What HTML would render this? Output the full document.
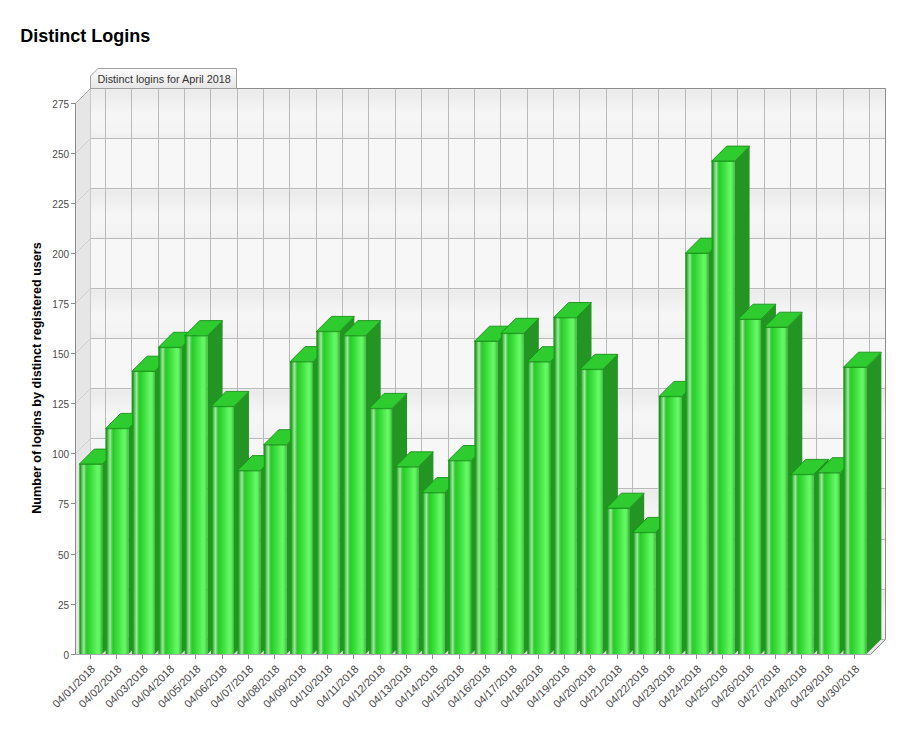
<!DOCTYPE html><html><head><meta charset="utf-8"><style>
html,body{margin:0;padding:0;background:#fff;}
body{width:914px;height:733px;overflow:hidden;font-family:"Liberation Sans",sans-serif;}
svg{position:absolute;left:0;top:0;}
</style></head><body>
<svg width="914" height="733" viewBox="0 0 914 733">
<defs>
<linearGradient id="fg" x1="0" y1="0" x2="1" y2="0"><stop offset="0" stop-color="#179717"/><stop offset="0.06" stop-color="#22a622"/><stop offset="0.12" stop-color="#60cc60"/><stop offset="0.20" stop-color="#a4e6a4"/><stop offset="0.27" stop-color="#50d050"/><stop offset="0.33" stop-color="#26cc26"/><stop offset="0.55" stop-color="#3fe03f"/><stop offset="0.80" stop-color="#66f866"/><stop offset="0.88" stop-color="#60f060"/><stop offset="0.95" stop-color="#44d844"/><stop offset="1" stop-color="#30b030"/></linearGradient>
<linearGradient id="band" x1="0" y1="0" x2="0" y2="1"><stop offset="0" stop-color="#f1f1f1"/><stop offset="0.05" stop-color="#ebebeb"/><stop offset="0.15" stop-color="#ededed"/><stop offset="0.5" stop-color="#f6f6f6"/><stop offset="0.85" stop-color="#f4f4f4"/><stop offset="1" stop-color="#efefef"/></linearGradient>
<linearGradient id="tab" x1="0" y1="0" x2="0" y2="1"><stop offset="0" stop-color="#fbfbfb"/><stop offset="1" stop-color="#e6e6e6"/></linearGradient>
</defs>
<text x="20.2" y="41.8" font-family="Liberation Sans" font-weight="bold" font-size="18" fill="#000">Distinct Logins</text>
<rect x="90.5" y="88.5" width="795.0" height="551.0" fill="#f7f7f7"/>
<rect x="90.5" y="88.50" width="795.0" height="50.00" fill="url(#band)"/>
<rect x="90.5" y="188.50" width="795.0" height="50.00" fill="url(#band)"/>
<rect x="90.5" y="288.50" width="795.0" height="50.00" fill="url(#band)"/>
<rect x="90.5" y="388.50" width="795.0" height="50.00" fill="url(#band)"/>
<rect x="90.5" y="488.50" width="795.0" height="51.00" fill="url(#band)"/>
<rect x="90.5" y="589.50" width="795.0" height="50.00" fill="url(#band)"/>
<polygon points="75.5,103.5 90.5,88.5 90.5,639.5 75.5,654.5" fill="#e6e6e6"/>
<polygon points="75.5,654.5 870.5,654.5 885.5,639.5 90.5,639.5" fill="#e6e6e6"/>
<line x1="90.5" y1="639.50" x2="885.5" y2="639.50" stroke="#bababa" stroke-width="1"/>
<line x1="75.5" y1="654.50" x2="90.5" y2="639.50" stroke="#d0d0d0" stroke-width="1"/>
<line x1="90.5" y1="589.50" x2="885.5" y2="589.50" stroke="#bababa" stroke-width="1"/>
<line x1="75.5" y1="604.50" x2="90.5" y2="589.50" stroke="#d0d0d0" stroke-width="1"/>
<line x1="90.5" y1="539.50" x2="885.5" y2="539.50" stroke="#bababa" stroke-width="1"/>
<line x1="75.5" y1="554.50" x2="90.5" y2="539.50" stroke="#d0d0d0" stroke-width="1"/>
<line x1="90.5" y1="488.50" x2="885.5" y2="488.50" stroke="#bababa" stroke-width="1"/>
<line x1="75.5" y1="503.50" x2="90.5" y2="488.50" stroke="#d0d0d0" stroke-width="1"/>
<line x1="90.5" y1="438.50" x2="885.5" y2="438.50" stroke="#bababa" stroke-width="1"/>
<line x1="75.5" y1="453.50" x2="90.5" y2="438.50" stroke="#d0d0d0" stroke-width="1"/>
<line x1="90.5" y1="388.50" x2="885.5" y2="388.50" stroke="#bababa" stroke-width="1"/>
<line x1="75.5" y1="403.50" x2="90.5" y2="388.50" stroke="#d0d0d0" stroke-width="1"/>
<line x1="90.5" y1="338.50" x2="885.5" y2="338.50" stroke="#bababa" stroke-width="1"/>
<line x1="75.5" y1="353.50" x2="90.5" y2="338.50" stroke="#d0d0d0" stroke-width="1"/>
<line x1="90.5" y1="288.50" x2="885.5" y2="288.50" stroke="#bababa" stroke-width="1"/>
<line x1="75.5" y1="303.50" x2="90.5" y2="288.50" stroke="#d0d0d0" stroke-width="1"/>
<line x1="90.5" y1="238.50" x2="885.5" y2="238.50" stroke="#bababa" stroke-width="1"/>
<line x1="75.5" y1="253.50" x2="90.5" y2="238.50" stroke="#d0d0d0" stroke-width="1"/>
<line x1="90.5" y1="188.50" x2="885.5" y2="188.50" stroke="#bababa" stroke-width="1"/>
<line x1="75.5" y1="203.50" x2="90.5" y2="188.50" stroke="#d0d0d0" stroke-width="1"/>
<line x1="90.5" y1="138.50" x2="885.5" y2="138.50" stroke="#bababa" stroke-width="1"/>
<line x1="75.5" y1="153.50" x2="90.5" y2="138.50" stroke="#d0d0d0" stroke-width="1"/>
<line x1="90.5" y1="88.50" x2="885.5" y2="88.50" stroke="#bababa" stroke-width="1"/>
<line x1="75.5" y1="103.50" x2="90.5" y2="88.50" stroke="#d0d0d0" stroke-width="1"/>
<line x1="105.50" y1="88.5" x2="105.50" y2="639.5" stroke="#bababa" stroke-width="1"/>
<line x1="131.50" y1="88.5" x2="131.50" y2="639.5" stroke="#bababa" stroke-width="1"/>
<line x1="158.50" y1="88.5" x2="158.50" y2="639.5" stroke="#bababa" stroke-width="1"/>
<line x1="184.50" y1="88.5" x2="184.50" y2="639.5" stroke="#bababa" stroke-width="1"/>
<line x1="210.50" y1="88.5" x2="210.50" y2="639.5" stroke="#bababa" stroke-width="1"/>
<line x1="237.50" y1="88.5" x2="237.50" y2="639.5" stroke="#bababa" stroke-width="1"/>
<line x1="263.50" y1="88.5" x2="263.50" y2="639.5" stroke="#bababa" stroke-width="1"/>
<line x1="289.50" y1="88.5" x2="289.50" y2="639.5" stroke="#bababa" stroke-width="1"/>
<line x1="316.50" y1="88.5" x2="316.50" y2="639.5" stroke="#bababa" stroke-width="1"/>
<line x1="342.50" y1="88.5" x2="342.50" y2="639.5" stroke="#bababa" stroke-width="1"/>
<line x1="368.50" y1="88.5" x2="368.50" y2="639.5" stroke="#bababa" stroke-width="1"/>
<line x1="395.50" y1="88.5" x2="395.50" y2="639.5" stroke="#bababa" stroke-width="1"/>
<line x1="421.50" y1="88.5" x2="421.50" y2="639.5" stroke="#bababa" stroke-width="1"/>
<line x1="448.50" y1="88.5" x2="448.50" y2="639.5" stroke="#bababa" stroke-width="1"/>
<line x1="474.50" y1="88.5" x2="474.50" y2="639.5" stroke="#bababa" stroke-width="1"/>
<line x1="500.50" y1="88.5" x2="500.50" y2="639.5" stroke="#bababa" stroke-width="1"/>
<line x1="527.50" y1="88.5" x2="527.50" y2="639.5" stroke="#bababa" stroke-width="1"/>
<line x1="553.50" y1="88.5" x2="553.50" y2="639.5" stroke="#bababa" stroke-width="1"/>
<line x1="579.50" y1="88.5" x2="579.50" y2="639.5" stroke="#bababa" stroke-width="1"/>
<line x1="606.50" y1="88.5" x2="606.50" y2="639.5" stroke="#bababa" stroke-width="1"/>
<line x1="632.50" y1="88.5" x2="632.50" y2="639.5" stroke="#bababa" stroke-width="1"/>
<line x1="658.50" y1="88.5" x2="658.50" y2="639.5" stroke="#bababa" stroke-width="1"/>
<line x1="685.50" y1="88.5" x2="685.50" y2="639.5" stroke="#bababa" stroke-width="1"/>
<line x1="711.50" y1="88.5" x2="711.50" y2="639.5" stroke="#bababa" stroke-width="1"/>
<line x1="737.50" y1="88.5" x2="737.50" y2="639.5" stroke="#bababa" stroke-width="1"/>
<line x1="764.50" y1="88.5" x2="764.50" y2="639.5" stroke="#bababa" stroke-width="1"/>
<line x1="790.50" y1="88.5" x2="790.50" y2="639.5" stroke="#bababa" stroke-width="1"/>
<line x1="816.50" y1="88.5" x2="816.50" y2="639.5" stroke="#bababa" stroke-width="1"/>
<line x1="843.50" y1="88.5" x2="843.50" y2="639.5" stroke="#bababa" stroke-width="1"/>
<line x1="869.50" y1="88.5" x2="869.50" y2="639.5" stroke="#bababa" stroke-width="1"/>
<line x1="90.5" y1="88.5" x2="90.5" y2="639.5" stroke="#c8c8c8" stroke-width="1"/>
<line x1="75.5" y1="103.5" x2="90.5" y2="88.5" stroke="#a8a8a8" stroke-width="1"/>
<polyline points="90.5,88.5 885.5,88.5 885.5,639.5 870.5,654.5" fill="none" stroke="#8c8c8c" stroke-width="1"/>
<polygon points="102.20,464.10 117.20,449.10 117.20,639.00 102.20,654.0" fill="#239523"/>
<polygon points="79.30,464.10 94.30,449.10 117.20,449.10 102.20,464.10" fill="#2ecc2e" stroke="#199019" stroke-width="0.9" stroke-linejoin="round"/>
<rect x="79.30" y="464.10" width="22.9" height="189.90" fill="url(#fg)"/>
<line x1="79.30" y1="464.40" x2="102.20" y2="464.40" stroke="#1a931a" stroke-width="0.9"/>
<polygon points="128.55,428.40 143.55,413.40 143.55,639.00 128.55,654.0" fill="#239523"/>
<polygon points="105.65,428.40 120.65,413.40 143.55,413.40 128.55,428.40" fill="#2ecc2e" stroke="#199019" stroke-width="0.9" stroke-linejoin="round"/>
<rect x="105.65" y="428.40" width="22.9" height="225.60" fill="url(#fg)"/>
<line x1="105.65" y1="428.70" x2="128.55" y2="428.70" stroke="#1a931a" stroke-width="0.9"/>
<polygon points="154.90,371.20 169.90,356.20 169.90,639.00 154.90,654.0" fill="#239523"/>
<polygon points="132.00,371.20 147.00,356.20 169.90,356.20 154.90,371.20" fill="#2ecc2e" stroke="#199019" stroke-width="0.9" stroke-linejoin="round"/>
<rect x="132.00" y="371.20" width="22.9" height="282.80" fill="url(#fg)"/>
<line x1="132.00" y1="371.50" x2="154.90" y2="371.50" stroke="#1a931a" stroke-width="0.9"/>
<polygon points="181.25,347.30 196.25,332.30 196.25,639.00 181.25,654.0" fill="#239523"/>
<polygon points="158.35,347.30 173.35,332.30 196.25,332.30 181.25,347.30" fill="#2ecc2e" stroke="#199019" stroke-width="0.9" stroke-linejoin="round"/>
<rect x="158.35" y="347.30" width="22.9" height="306.70" fill="url(#fg)"/>
<line x1="158.35" y1="347.60" x2="181.25" y2="347.60" stroke="#1a931a" stroke-width="0.9"/>
<polygon points="207.60,335.60 222.60,320.60 222.60,639.00 207.60,654.0" fill="#239523"/>
<polygon points="184.70,335.60 199.70,320.60 222.60,320.60 207.60,335.60" fill="#2ecc2e" stroke="#199019" stroke-width="0.9" stroke-linejoin="round"/>
<rect x="184.70" y="335.60" width="22.9" height="318.40" fill="url(#fg)"/>
<line x1="184.70" y1="335.90" x2="207.60" y2="335.90" stroke="#1a931a" stroke-width="0.9"/>
<polygon points="233.95,406.40 248.95,391.40 248.95,639.00 233.95,654.0" fill="#239523"/>
<polygon points="211.05,406.40 226.05,391.40 248.95,391.40 233.95,406.40" fill="#2ecc2e" stroke="#199019" stroke-width="0.9" stroke-linejoin="round"/>
<rect x="211.05" y="406.40" width="22.9" height="247.60" fill="url(#fg)"/>
<line x1="211.05" y1="406.70" x2="233.95" y2="406.70" stroke="#1a931a" stroke-width="0.9"/>
<polygon points="260.30,470.60 275.30,455.60 275.30,639.00 260.30,654.0" fill="#239523"/>
<polygon points="237.40,470.60 252.40,455.60 275.30,455.60 260.30,470.60" fill="#2ecc2e" stroke="#199019" stroke-width="0.9" stroke-linejoin="round"/>
<rect x="237.40" y="470.60" width="22.9" height="183.40" fill="url(#fg)"/>
<line x1="237.40" y1="470.90" x2="260.30" y2="470.90" stroke="#1a931a" stroke-width="0.9"/>
<polygon points="286.65,444.70 301.65,429.70 301.65,639.00 286.65,654.0" fill="#239523"/>
<polygon points="263.75,444.70 278.75,429.70 301.65,429.70 286.65,444.70" fill="#2ecc2e" stroke="#199019" stroke-width="0.9" stroke-linejoin="round"/>
<rect x="263.75" y="444.70" width="22.9" height="209.30" fill="url(#fg)"/>
<line x1="263.75" y1="445.00" x2="286.65" y2="445.00" stroke="#1a931a" stroke-width="0.9"/>
<polygon points="313.00,361.60 328.00,346.60 328.00,639.00 313.00,654.0" fill="#239523"/>
<polygon points="290.10,361.60 305.10,346.60 328.00,346.60 313.00,361.60" fill="#2ecc2e" stroke="#199019" stroke-width="0.9" stroke-linejoin="round"/>
<rect x="290.10" y="361.60" width="22.9" height="292.40" fill="url(#fg)"/>
<line x1="290.10" y1="361.90" x2="313.00" y2="361.90" stroke="#1a931a" stroke-width="0.9"/>
<polygon points="339.35,331.40 354.35,316.40 354.35,639.00 339.35,654.0" fill="#239523"/>
<polygon points="316.45,331.40 331.45,316.40 354.35,316.40 339.35,331.40" fill="#2ecc2e" stroke="#199019" stroke-width="0.9" stroke-linejoin="round"/>
<rect x="316.45" y="331.40" width="22.9" height="322.60" fill="url(#fg)"/>
<line x1="316.45" y1="331.70" x2="339.35" y2="331.70" stroke="#1a931a" stroke-width="0.9"/>
<polygon points="365.70,335.60 380.70,320.60 380.70,639.00 365.70,654.0" fill="#239523"/>
<polygon points="342.80,335.60 357.80,320.60 380.70,320.60 365.70,335.60" fill="#2ecc2e" stroke="#199019" stroke-width="0.9" stroke-linejoin="round"/>
<rect x="342.80" y="335.60" width="22.9" height="318.40" fill="url(#fg)"/>
<line x1="342.80" y1="335.90" x2="365.70" y2="335.90" stroke="#1a931a" stroke-width="0.9"/>
<polygon points="392.05,408.40 407.05,393.40 407.05,639.00 392.05,654.0" fill="#239523"/>
<polygon points="369.15,408.40 384.15,393.40 407.05,393.40 392.05,408.40" fill="#2ecc2e" stroke="#199019" stroke-width="0.9" stroke-linejoin="round"/>
<rect x="369.15" y="408.40" width="22.9" height="245.60" fill="url(#fg)"/>
<line x1="369.15" y1="408.70" x2="392.05" y2="408.70" stroke="#1a931a" stroke-width="0.9"/>
<polygon points="418.40,466.80 433.40,451.80 433.40,639.00 418.40,654.0" fill="#239523"/>
<polygon points="395.50,466.80 410.50,451.80 433.40,451.80 418.40,466.80" fill="#2ecc2e" stroke="#199019" stroke-width="0.9" stroke-linejoin="round"/>
<rect x="395.50" y="466.80" width="22.9" height="187.20" fill="url(#fg)"/>
<line x1="395.50" y1="467.10" x2="418.40" y2="467.10" stroke="#1a931a" stroke-width="0.9"/>
<polygon points="444.75,492.60 459.75,477.60 459.75,639.00 444.75,654.0" fill="#239523"/>
<polygon points="421.85,492.60 436.85,477.60 459.75,477.60 444.75,492.60" fill="#2ecc2e" stroke="#199019" stroke-width="0.9" stroke-linejoin="round"/>
<rect x="421.85" y="492.60" width="22.9" height="161.40" fill="url(#fg)"/>
<line x1="421.85" y1="492.90" x2="444.75" y2="492.90" stroke="#1a931a" stroke-width="0.9"/>
<polygon points="471.10,460.50 486.10,445.50 486.10,639.00 471.10,654.0" fill="#239523"/>
<polygon points="448.20,460.50 463.20,445.50 486.10,445.50 471.10,460.50" fill="#2ecc2e" stroke="#199019" stroke-width="0.9" stroke-linejoin="round"/>
<rect x="448.20" y="460.50" width="22.9" height="193.50" fill="url(#fg)"/>
<line x1="448.20" y1="460.80" x2="471.10" y2="460.80" stroke="#1a931a" stroke-width="0.9"/>
<polygon points="497.45,341.20 512.45,326.20 512.45,639.00 497.45,654.0" fill="#239523"/>
<polygon points="474.55,341.20 489.55,326.20 512.45,326.20 497.45,341.20" fill="#2ecc2e" stroke="#199019" stroke-width="0.9" stroke-linejoin="round"/>
<rect x="474.55" y="341.20" width="22.9" height="312.80" fill="url(#fg)"/>
<line x1="474.55" y1="341.50" x2="497.45" y2="341.50" stroke="#1a931a" stroke-width="0.9"/>
<polygon points="523.80,333.30 538.80,318.30 538.80,639.00 523.80,654.0" fill="#239523"/>
<polygon points="500.90,333.30 515.90,318.30 538.80,318.30 523.80,333.30" fill="#2ecc2e" stroke="#199019" stroke-width="0.9" stroke-linejoin="round"/>
<rect x="500.90" y="333.30" width="22.9" height="320.70" fill="url(#fg)"/>
<line x1="500.90" y1="333.60" x2="523.80" y2="333.60" stroke="#1a931a" stroke-width="0.9"/>
<polygon points="550.15,361.70 565.15,346.70 565.15,639.00 550.15,654.0" fill="#239523"/>
<polygon points="527.25,361.70 542.25,346.70 565.15,346.70 550.15,361.70" fill="#2ecc2e" stroke="#199019" stroke-width="0.9" stroke-linejoin="round"/>
<rect x="527.25" y="361.70" width="22.9" height="292.30" fill="url(#fg)"/>
<line x1="527.25" y1="362.00" x2="550.15" y2="362.00" stroke="#1a931a" stroke-width="0.9"/>
<polygon points="576.50,317.50 591.50,302.50 591.50,639.00 576.50,654.0" fill="#239523"/>
<polygon points="553.60,317.50 568.60,302.50 591.50,302.50 576.50,317.50" fill="#2ecc2e" stroke="#199019" stroke-width="0.9" stroke-linejoin="round"/>
<rect x="553.60" y="317.50" width="22.9" height="336.50" fill="url(#fg)"/>
<line x1="553.60" y1="317.80" x2="576.50" y2="317.80" stroke="#1a931a" stroke-width="0.9"/>
<polygon points="602.85,369.30 617.85,354.30 617.85,639.00 602.85,654.0" fill="#239523"/>
<polygon points="579.95,369.30 594.95,354.30 617.85,354.30 602.85,369.30" fill="#2ecc2e" stroke="#199019" stroke-width="0.9" stroke-linejoin="round"/>
<rect x="579.95" y="369.30" width="22.9" height="284.70" fill="url(#fg)"/>
<line x1="579.95" y1="369.60" x2="602.85" y2="369.60" stroke="#1a931a" stroke-width="0.9"/>
<polygon points="629.20,508.20 644.20,493.20 644.20,639.00 629.20,654.0" fill="#239523"/>
<polygon points="606.30,508.20 621.30,493.20 644.20,493.20 629.20,508.20" fill="#2ecc2e" stroke="#199019" stroke-width="0.9" stroke-linejoin="round"/>
<rect x="606.30" y="508.20" width="22.9" height="145.80" fill="url(#fg)"/>
<line x1="606.30" y1="508.50" x2="629.20" y2="508.50" stroke="#1a931a" stroke-width="0.9"/>
<polygon points="655.55,532.40 670.55,517.40 670.55,639.00 655.55,654.0" fill="#239523"/>
<polygon points="632.65,532.40 647.65,517.40 670.55,517.40 655.55,532.40" fill="#2ecc2e" stroke="#199019" stroke-width="0.9" stroke-linejoin="round"/>
<rect x="632.65" y="532.40" width="22.9" height="121.60" fill="url(#fg)"/>
<line x1="632.65" y1="532.70" x2="655.55" y2="532.70" stroke="#1a931a" stroke-width="0.9"/>
<polygon points="681.90,396.40 696.90,381.40 696.90,639.00 681.90,654.0" fill="#239523"/>
<polygon points="659.00,396.40 674.00,381.40 696.90,381.40 681.90,396.40" fill="#2ecc2e" stroke="#199019" stroke-width="0.9" stroke-linejoin="round"/>
<rect x="659.00" y="396.40" width="22.9" height="257.60" fill="url(#fg)"/>
<line x1="659.00" y1="396.70" x2="681.90" y2="396.70" stroke="#1a931a" stroke-width="0.9"/>
<polygon points="708.25,253.20 723.25,238.20 723.25,639.00 708.25,654.0" fill="#239523"/>
<polygon points="685.35,253.20 700.35,238.20 723.25,238.20 708.25,253.20" fill="#2ecc2e" stroke="#199019" stroke-width="0.9" stroke-linejoin="round"/>
<rect x="685.35" y="253.20" width="22.9" height="400.80" fill="url(#fg)"/>
<line x1="685.35" y1="253.50" x2="708.25" y2="253.50" stroke="#1a931a" stroke-width="0.9"/>
<polygon points="734.60,161.10 749.60,146.10 749.60,639.00 734.60,654.0" fill="#239523"/>
<polygon points="711.70,161.10 726.70,146.10 749.60,146.10 734.60,161.10" fill="#2ecc2e" stroke="#199019" stroke-width="0.9" stroke-linejoin="round"/>
<rect x="711.70" y="161.10" width="22.9" height="492.90" fill="url(#fg)"/>
<line x1="711.70" y1="161.40" x2="734.60" y2="161.40" stroke="#1a931a" stroke-width="0.9"/>
<polygon points="760.95,319.20 775.95,304.20 775.95,639.00 760.95,654.0" fill="#239523"/>
<polygon points="738.05,319.20 753.05,304.20 775.95,304.20 760.95,319.20" fill="#2ecc2e" stroke="#199019" stroke-width="0.9" stroke-linejoin="round"/>
<rect x="738.05" y="319.20" width="22.9" height="334.80" fill="url(#fg)"/>
<line x1="738.05" y1="319.50" x2="760.95" y2="319.50" stroke="#1a931a" stroke-width="0.9"/>
<polygon points="787.30,327.20 802.30,312.20 802.30,639.00 787.30,654.0" fill="#239523"/>
<polygon points="764.40,327.20 779.40,312.20 802.30,312.20 787.30,327.20" fill="#2ecc2e" stroke="#199019" stroke-width="0.9" stroke-linejoin="round"/>
<rect x="764.40" y="327.20" width="22.9" height="326.80" fill="url(#fg)"/>
<line x1="764.40" y1="327.50" x2="787.30" y2="327.50" stroke="#1a931a" stroke-width="0.9"/>
<polygon points="813.65,474.40 828.65,459.40 828.65,639.00 813.65,654.0" fill="#239523"/>
<polygon points="790.75,474.40 805.75,459.40 828.65,459.40 813.65,474.40" fill="#2ecc2e" stroke="#199019" stroke-width="0.9" stroke-linejoin="round"/>
<rect x="790.75" y="474.40" width="22.9" height="179.60" fill="url(#fg)"/>
<line x1="790.75" y1="474.70" x2="813.65" y2="474.70" stroke="#1a931a" stroke-width="0.9"/>
<polygon points="840.00,472.70 855.00,457.70 855.00,639.00 840.00,654.0" fill="#239523"/>
<polygon points="817.10,472.70 832.10,457.70 855.00,457.70 840.00,472.70" fill="#2ecc2e" stroke="#199019" stroke-width="0.9" stroke-linejoin="round"/>
<rect x="817.10" y="472.70" width="22.9" height="181.30" fill="url(#fg)"/>
<line x1="817.10" y1="473.00" x2="840.00" y2="473.00" stroke="#1a931a" stroke-width="0.9"/>
<polygon points="866.35,367.20 881.35,352.20 881.35,639.00 866.35,654.0" fill="#239523"/>
<polygon points="843.45,367.20 858.45,352.20 881.35,352.20 866.35,367.20" fill="#2ecc2e" stroke="#199019" stroke-width="0.9" stroke-linejoin="round"/>
<rect x="843.45" y="367.20" width="22.9" height="286.80" fill="url(#fg)"/>
<line x1="843.45" y1="367.50" x2="866.35" y2="367.50" stroke="#1a931a" stroke-width="0.9"/>
<line x1="75.5" y1="103.5" x2="75.5" y2="654.5" stroke="#8c8c8c" stroke-width="1"/>
<line x1="75.5" y1="654.5" x2="870.5" y2="654.5" stroke="#a8a8a8" stroke-width="1"/>
<line x1="71.0" y1="654.50" x2="75.5" y2="654.50" stroke="#8c8c8c" stroke-width="1"/>
<text transform="translate(69.0,658.70) scale(0.87,1)" text-anchor="end" font-family="Liberation Sans" font-size="11.5" fill="#4a4a4a">0</text>
<line x1="71.0" y1="604.50" x2="75.5" y2="604.50" stroke="#8c8c8c" stroke-width="1"/>
<text transform="translate(69.0,608.61) scale(0.87,1)" text-anchor="end" font-family="Liberation Sans" font-size="11.5" fill="#4a4a4a">25</text>
<line x1="71.0" y1="554.50" x2="75.5" y2="554.50" stroke="#8c8c8c" stroke-width="1"/>
<text transform="translate(69.0,558.52) scale(0.87,1)" text-anchor="end" font-family="Liberation Sans" font-size="11.5" fill="#4a4a4a">50</text>
<line x1="71.0" y1="503.50" x2="75.5" y2="503.50" stroke="#8c8c8c" stroke-width="1"/>
<text transform="translate(69.0,508.43) scale(0.87,1)" text-anchor="end" font-family="Liberation Sans" font-size="11.5" fill="#4a4a4a">75</text>
<line x1="71.0" y1="453.50" x2="75.5" y2="453.50" stroke="#8c8c8c" stroke-width="1"/>
<text transform="translate(69.0,458.34) scale(0.87,1)" text-anchor="end" font-family="Liberation Sans" font-size="11.5" fill="#4a4a4a">100</text>
<line x1="71.0" y1="403.50" x2="75.5" y2="403.50" stroke="#8c8c8c" stroke-width="1"/>
<text transform="translate(69.0,408.25) scale(0.87,1)" text-anchor="end" font-family="Liberation Sans" font-size="11.5" fill="#4a4a4a">125</text>
<line x1="71.0" y1="353.50" x2="75.5" y2="353.50" stroke="#8c8c8c" stroke-width="1"/>
<text transform="translate(69.0,358.16) scale(0.87,1)" text-anchor="end" font-family="Liberation Sans" font-size="11.5" fill="#4a4a4a">150</text>
<line x1="71.0" y1="303.50" x2="75.5" y2="303.50" stroke="#8c8c8c" stroke-width="1"/>
<text transform="translate(69.0,308.07) scale(0.87,1)" text-anchor="end" font-family="Liberation Sans" font-size="11.5" fill="#4a4a4a">175</text>
<line x1="71.0" y1="253.50" x2="75.5" y2="253.50" stroke="#8c8c8c" stroke-width="1"/>
<text transform="translate(69.0,257.98) scale(0.87,1)" text-anchor="end" font-family="Liberation Sans" font-size="11.5" fill="#4a4a4a">200</text>
<line x1="71.0" y1="203.50" x2="75.5" y2="203.50" stroke="#8c8c8c" stroke-width="1"/>
<text transform="translate(69.0,207.89) scale(0.87,1)" text-anchor="end" font-family="Liberation Sans" font-size="11.5" fill="#4a4a4a">225</text>
<line x1="71.0" y1="153.50" x2="75.5" y2="153.50" stroke="#8c8c8c" stroke-width="1"/>
<text transform="translate(69.0,157.80) scale(0.87,1)" text-anchor="end" font-family="Liberation Sans" font-size="11.5" fill="#4a4a4a">250</text>
<line x1="71.0" y1="103.50" x2="75.5" y2="103.50" stroke="#8c8c8c" stroke-width="1"/>
<text transform="translate(69.0,107.71) scale(0.87,1)" text-anchor="end" font-family="Liberation Sans" font-size="11.5" fill="#4a4a4a">275</text>
<line x1="90.50" y1="654.5" x2="90.50" y2="659.0" stroke="#8c8c8c" stroke-width="1"/>
<text transform="translate(93.45,667.20) rotate(-45)" x="0" y="3.5" text-anchor="end" font-family="Liberation Sans" font-size="11" fill="#444">04/01/2018</text>
<line x1="116.50" y1="654.5" x2="116.50" y2="659.0" stroke="#8c8c8c" stroke-width="1"/>
<text transform="translate(119.80,667.20) rotate(-45)" x="0" y="3.5" text-anchor="end" font-family="Liberation Sans" font-size="11" fill="#444">04/02/2018</text>
<line x1="142.50" y1="654.5" x2="142.50" y2="659.0" stroke="#8c8c8c" stroke-width="1"/>
<text transform="translate(146.15,667.20) rotate(-45)" x="0" y="3.5" text-anchor="end" font-family="Liberation Sans" font-size="11" fill="#444">04/03/2018</text>
<line x1="169.50" y1="654.5" x2="169.50" y2="659.0" stroke="#8c8c8c" stroke-width="1"/>
<text transform="translate(172.50,667.20) rotate(-45)" x="0" y="3.5" text-anchor="end" font-family="Liberation Sans" font-size="11" fill="#444">04/04/2018</text>
<line x1="195.50" y1="654.5" x2="195.50" y2="659.0" stroke="#8c8c8c" stroke-width="1"/>
<text transform="translate(198.85,667.20) rotate(-45)" x="0" y="3.5" text-anchor="end" font-family="Liberation Sans" font-size="11" fill="#444">04/05/2018</text>
<line x1="222.50" y1="654.5" x2="222.50" y2="659.0" stroke="#8c8c8c" stroke-width="1"/>
<text transform="translate(225.20,667.20) rotate(-45)" x="0" y="3.5" text-anchor="end" font-family="Liberation Sans" font-size="11" fill="#444">04/06/2018</text>
<line x1="248.50" y1="654.5" x2="248.50" y2="659.0" stroke="#8c8c8c" stroke-width="1"/>
<text transform="translate(251.55,667.20) rotate(-45)" x="0" y="3.5" text-anchor="end" font-family="Liberation Sans" font-size="11" fill="#444">04/07/2018</text>
<line x1="274.50" y1="654.5" x2="274.50" y2="659.0" stroke="#8c8c8c" stroke-width="1"/>
<text transform="translate(277.90,667.20) rotate(-45)" x="0" y="3.5" text-anchor="end" font-family="Liberation Sans" font-size="11" fill="#444">04/08/2018</text>
<line x1="301.50" y1="654.5" x2="301.50" y2="659.0" stroke="#8c8c8c" stroke-width="1"/>
<text transform="translate(304.25,667.20) rotate(-45)" x="0" y="3.5" text-anchor="end" font-family="Liberation Sans" font-size="11" fill="#444">04/09/2018</text>
<line x1="327.50" y1="654.5" x2="327.50" y2="659.0" stroke="#8c8c8c" stroke-width="1"/>
<text transform="translate(330.60,667.20) rotate(-45)" x="0" y="3.5" text-anchor="end" font-family="Liberation Sans" font-size="11" fill="#444">04/10/2018</text>
<line x1="353.50" y1="654.5" x2="353.50" y2="659.0" stroke="#8c8c8c" stroke-width="1"/>
<text transform="translate(356.95,667.20) rotate(-45)" x="0" y="3.5" text-anchor="end" font-family="Liberation Sans" font-size="11" fill="#444">04/11/2018</text>
<line x1="380.50" y1="654.5" x2="380.50" y2="659.0" stroke="#8c8c8c" stroke-width="1"/>
<text transform="translate(383.30,667.20) rotate(-45)" x="0" y="3.5" text-anchor="end" font-family="Liberation Sans" font-size="11" fill="#444">04/12/2018</text>
<line x1="406.50" y1="654.5" x2="406.50" y2="659.0" stroke="#8c8c8c" stroke-width="1"/>
<text transform="translate(409.65,667.20) rotate(-45)" x="0" y="3.5" text-anchor="end" font-family="Liberation Sans" font-size="11" fill="#444">04/13/2018</text>
<line x1="432.50" y1="654.5" x2="432.50" y2="659.0" stroke="#8c8c8c" stroke-width="1"/>
<text transform="translate(436.00,667.20) rotate(-45)" x="0" y="3.5" text-anchor="end" font-family="Liberation Sans" font-size="11" fill="#444">04/14/2018</text>
<line x1="459.50" y1="654.5" x2="459.50" y2="659.0" stroke="#8c8c8c" stroke-width="1"/>
<text transform="translate(462.35,667.20) rotate(-45)" x="0" y="3.5" text-anchor="end" font-family="Liberation Sans" font-size="11" fill="#444">04/15/2018</text>
<line x1="485.50" y1="654.5" x2="485.50" y2="659.0" stroke="#8c8c8c" stroke-width="1"/>
<text transform="translate(488.70,667.20) rotate(-45)" x="0" y="3.5" text-anchor="end" font-family="Liberation Sans" font-size="11" fill="#444">04/16/2018</text>
<line x1="511.50" y1="654.5" x2="511.50" y2="659.0" stroke="#8c8c8c" stroke-width="1"/>
<text transform="translate(515.05,667.20) rotate(-45)" x="0" y="3.5" text-anchor="end" font-family="Liberation Sans" font-size="11" fill="#444">04/17/2018</text>
<line x1="538.50" y1="654.5" x2="538.50" y2="659.0" stroke="#8c8c8c" stroke-width="1"/>
<text transform="translate(541.40,667.20) rotate(-45)" x="0" y="3.5" text-anchor="end" font-family="Liberation Sans" font-size="11" fill="#444">04/18/2018</text>
<line x1="564.50" y1="654.5" x2="564.50" y2="659.0" stroke="#8c8c8c" stroke-width="1"/>
<text transform="translate(567.75,667.20) rotate(-45)" x="0" y="3.5" text-anchor="end" font-family="Liberation Sans" font-size="11" fill="#444">04/19/2018</text>
<line x1="590.50" y1="654.5" x2="590.50" y2="659.0" stroke="#8c8c8c" stroke-width="1"/>
<text transform="translate(594.10,667.20) rotate(-45)" x="0" y="3.5" text-anchor="end" font-family="Liberation Sans" font-size="11" fill="#444">04/20/2018</text>
<line x1="617.50" y1="654.5" x2="617.50" y2="659.0" stroke="#8c8c8c" stroke-width="1"/>
<text transform="translate(620.45,667.20) rotate(-45)" x="0" y="3.5" text-anchor="end" font-family="Liberation Sans" font-size="11" fill="#444">04/21/2018</text>
<line x1="643.50" y1="654.5" x2="643.50" y2="659.0" stroke="#8c8c8c" stroke-width="1"/>
<text transform="translate(646.80,667.20) rotate(-45)" x="0" y="3.5" text-anchor="end" font-family="Liberation Sans" font-size="11" fill="#444">04/22/2018</text>
<line x1="669.50" y1="654.5" x2="669.50" y2="659.0" stroke="#8c8c8c" stroke-width="1"/>
<text transform="translate(673.15,667.20) rotate(-45)" x="0" y="3.5" text-anchor="end" font-family="Liberation Sans" font-size="11" fill="#444">04/23/2018</text>
<line x1="696.50" y1="654.5" x2="696.50" y2="659.0" stroke="#8c8c8c" stroke-width="1"/>
<text transform="translate(699.50,667.20) rotate(-45)" x="0" y="3.5" text-anchor="end" font-family="Liberation Sans" font-size="11" fill="#444">04/24/2018</text>
<line x1="722.50" y1="654.5" x2="722.50" y2="659.0" stroke="#8c8c8c" stroke-width="1"/>
<text transform="translate(725.85,667.20) rotate(-45)" x="0" y="3.5" text-anchor="end" font-family="Liberation Sans" font-size="11" fill="#444">04/25/2018</text>
<line x1="749.50" y1="654.5" x2="749.50" y2="659.0" stroke="#8c8c8c" stroke-width="1"/>
<text transform="translate(752.20,667.20) rotate(-45)" x="0" y="3.5" text-anchor="end" font-family="Liberation Sans" font-size="11" fill="#444">04/26/2018</text>
<line x1="775.50" y1="654.5" x2="775.50" y2="659.0" stroke="#8c8c8c" stroke-width="1"/>
<text transform="translate(778.55,667.20) rotate(-45)" x="0" y="3.5" text-anchor="end" font-family="Liberation Sans" font-size="11" fill="#444">04/27/2018</text>
<line x1="801.50" y1="654.5" x2="801.50" y2="659.0" stroke="#8c8c8c" stroke-width="1"/>
<text transform="translate(804.90,667.20) rotate(-45)" x="0" y="3.5" text-anchor="end" font-family="Liberation Sans" font-size="11" fill="#444">04/28/2018</text>
<line x1="828.50" y1="654.5" x2="828.50" y2="659.0" stroke="#8c8c8c" stroke-width="1"/>
<text transform="translate(831.25,667.20) rotate(-45)" x="0" y="3.5" text-anchor="end" font-family="Liberation Sans" font-size="11" fill="#444">04/29/2018</text>
<line x1="854.50" y1="654.5" x2="854.50" y2="659.0" stroke="#8c8c8c" stroke-width="1"/>
<text transform="translate(857.60,667.20) rotate(-45)" x="0" y="3.5" text-anchor="end" font-family="Liberation Sans" font-size="11" fill="#444">04/30/2018</text>
<text transform="translate(41.3,378) rotate(-90)" text-anchor="middle" font-family="Liberation Sans" font-weight="bold" font-size="12.6" fill="#000">Number of logins by distinct registered users</text>
<polygon points="90.5,88.5 90.5,76 98,68.5 236.5,68.5 236.5,88.5" fill="url(#tab)" stroke="#a0a0a0" stroke-width="1"/>
<text x="97.5" y="82.7" font-family="Liberation Sans" font-size="10.8" fill="#333">Distinct logins for April 2018</text>
</svg></body></html>
